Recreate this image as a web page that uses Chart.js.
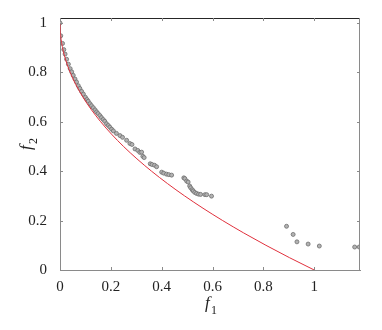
<!DOCTYPE html>
<html>
<head>
<meta charset="utf-8">
<script src="https://cdn.jsdelivr.net/npm/chart.js@4"></script>
<style>
  html, body { margin: 0; padding: 0; background: #fff; }
</style>
</head>
<body>
<canvas id="chartCanvas" width="382" height="330"></canvas>
<script>
// obtained solutions (f1, f2)
const solF1 = [0, 0.003, 0.01, 0.015, 0.02, 0.026, 0.033, 0.04, 0.046, 0.052, 0.059, 0.065, 0.072, 0.078, 0.085, 0.092,
    0.1, 0.106, 0.111, 0.118, 0.124, 0.131, 0.138, 0.144, 0.15, 0.157, 0.163, 0.17, 0.176, 0.183, 0.19, 0.196,
    0.203, 0.21, 0.222, 0.236, 0.246, 0.262, 0.275, 0.283, 0.295, 0.306, 0.314, 0.321, 0.326, 0.331,
    0.355, 0.362, 0.372, 0.38, 0.4, 0.408, 0.419, 0.428, 0.439,
    0.487, 0.491, 0.498, 0.504, 0.51, 0.514, 0.52, 0.524, 0.53, 0.537, 0.545, 0.553, 0.57, 0.577, 0.596,
    0.891, 0.917, 0.932, 0.976, 1.02, 1.159, 1.177]
const solF2 = [1, 0.948, 0.917, 0.892, 0.874, 0.853, 0.833, 0.815, 0.802, 0.788, 0.773, 0.761, 0.746, 0.735, 0.723, 0.712,
    0.699, 0.69, 0.683, 0.673, 0.665, 0.657, 0.648, 0.64, 0.633, 0.625, 0.617, 0.609, 0.602, 0.592, 0.585, 0.578,
    0.57, 0.563, 0.553, 0.544, 0.537, 0.525, 0.512, 0.508, 0.49, 0.484, 0.476, 0.477, 0.46, 0.455,
    0.43, 0.427, 0.424, 0.418, 0.396, 0.392, 0.388, 0.386, 0.384,
    0.373, 0.37, 0.36, 0.356, 0.34, 0.333, 0.325, 0.32, 0.314, 0.31, 0.307, 0.306, 0.305, 0.305, 0.299,
    0.177, 0.144, 0.114, 0.105, 0.097, 0.093, 0.093]
// true front (red line)
const frontF1 = [0, 0.0006, 0.0025, 0.01, 0.0225, 0.04, 0.0625, 0.09, 0.1225, 0.16, 0.2025, 0.25, 0.3025, 0.36,
    0.4225, 0.49, 0.5625, 0.64, 0.7225, 0.81, 0.9025, 1]
const frontF2 = [1, 0.975, 0.95, 0.9, 0.85, 0.8, 0.75, 0.7, 0.65, 0.6, 0.55, 0.5, 0.45, 0.4,
    0.35, 0.3, 0.25, 0.2, 0.15, 0.1, 0.05, 0]
const xTicks = [0, 0.2, 0.4, 0.6, 0.8, 1]
const yTicks = [0, 0.2, 0.4, 0.6, 0.8, 1]

const serif = '"Liberation Serif", "Times New Roman", serif'

const frame = {
    id: 'frame',
    afterDraw(chart) {
        const ctx = chart.ctx
        const a = chart.chartArea
        const x = chart.scales.x
        const y = chart.scales.y
        ctx.save()
        ctx.lineWidth = 1
        ctx.strokeStyle = '#262626'
        ctx.beginPath()
        ctx.moveTo(a.left, a.top + 0.5)
        ctx.lineTo(a.right, a.top + 0.5)
        ctx.stroke()
        ctx.strokeStyle = '#8a8a8a'
        ctx.beginPath()
        ctx.moveTo(a.right - 0.5, a.top)
        ctx.lineTo(a.right - 0.5, a.bottom)
        ctx.stroke()
        // inward ticks
        ctx.beginPath()
        x.ticks.forEach(t => {
            const px = Math.round(x.getPixelForValue(t.value)) + 0.5
            ctx.moveTo(px, a.bottom)
            ctx.lineTo(px, a.bottom - 3)
            ctx.moveTo(px, a.top)
            ctx.lineTo(px, a.top + 3)
        })
        y.ticks.forEach(t => {
            const py = Math.round(y.getPixelForValue(t.value)) + 0.5
            ctx.moveTo(a.left, py)
            ctx.lineTo(a.left + 3, py)
            ctx.moveTo(a.right, py)
            ctx.lineTo(a.right - 3, py)
        })
        ctx.stroke()
        // axis titles
        ctx.fillStyle = '#222'
        ctx.textBaseline = 'alphabetic'
        const cx = (a.left + a.right) / 2
        ctx.font = 'italic 17px ' + serif
        ctx.fillText('f', cx - 5, 308)
        ctx.font = '12px ' + serif
        ctx.fillText('1', cx + 1, 314)
        const cy = (a.top + a.bottom) / 2
        ctx.translate(31, cy)
        ctx.rotate(-Math.PI / 2)
        ctx.font = 'italic 17px ' + serif
        ctx.fillText('f', -6, 0)
        ctx.font = '12px ' + serif
        ctx.fillText('2', 0, 6)
        ctx.restore()
    }
}

const tickFont = { family: serif, size: 15 }

const config = {
    type: 'scatter',
    data: {
        datasets: [
            {
                type: 'line',
                data: frontF1.map((v, i) => ({ x: v, y: frontF2[i] })),
                borderColor: '#e0303c',
                borderWidth: 1,
                pointRadius: 0,
                fill: false,
                cubicInterpolationMode: 'monotone',
                order: 0
            },
            {
                data: solF1.map((v, i) => ({ x: v, y: solF2[i] })),
                backgroundColor: '#b2b2b2',
                borderColor: '#6e6e6e',
                borderWidth: 0.8,
                pointRadius: 2,
                order: 1
            }
        ]
    },
    options: {
        responsive: false,
        animation: false,
        devicePixelRatio: 1,
        layout: { padding: { left: 0, top: 18, right: 22, bottom: 0 } },
        plugins: {
            legend: { display: false },
            tooltip: { enabled: false }
        },
        scales: {
            x: {
                type: 'linear',
                min: 0,
                max: 1.18,
                afterBuildTicks: s => { s.ticks = xTicks.map(v => ({ value: v })) },
                afterFit: s => { s.height = 60 },
                grid: { display: false },
                border: { display: true, color: '#8a8a8a', width: 1 },
                ticks: {
                    font: tickFont,
                    color: '#222',
                    padding: 0,
                    maxRotation: 0,
                    callback: v => String(v)
                }
            },
            y: {
                type: 'linear',
                min: 0,
                max: 1.02,
                afterBuildTicks: s => { s.ticks = yTicks.map(v => ({ value: v })) },
                afterFit: s => { s.width = 60 },
                grid: { display: false },
                border: { display: true, color: '#8a8a8a', width: 1 },
                ticks: {
                    font: tickFont,
                    color: '#222',
                    padding: 5,
                    callback: v => String(v)
                }
            }
        }
    },
    plugins: [frame]
}

const myChart = new Chart(document.getElementById('chartCanvas'), config)
</script>
</body>
</html>
